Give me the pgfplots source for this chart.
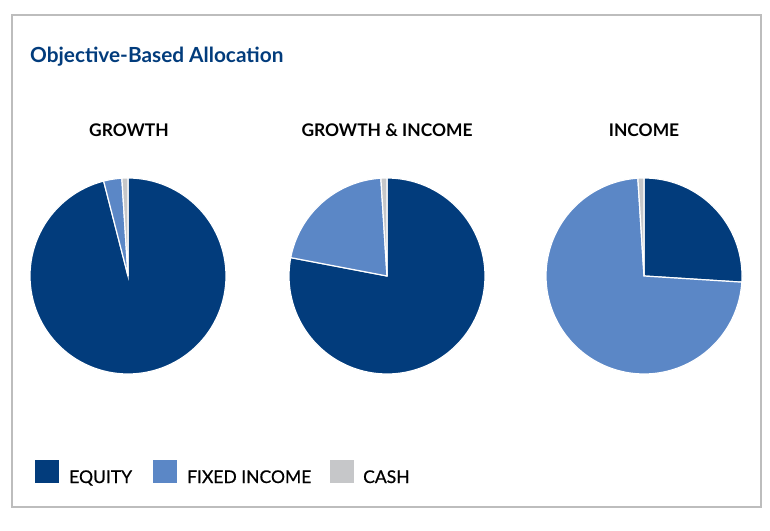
\documentclass[border=0pt]{standalone}
\usepackage{pgfplots}
\pgfplotsset{compat=1.18}
\usepackage{fontspec}
\setmainfont{Lato}
\newfontfamily\medfont{Lato}[FakeBold=0.7]
\definecolor{eq}{HTML}{023C7C}
\definecolor{fi}{HTML}{5B87C6}
\definecolor{ca}{HTML}{C6C7C9}
\definecolor{ttl}{HTML}{023C7C}
\definecolor{frm}{HTML}{BDBDBD}
% data: percent of Equity, Fixed Income, Cash (clockwise from 12 o'clock)
\def\GEq{96}\def\GFi{3}\def\GCa{1}
\def\GIEq{78}\def\GIFi{21}\def\GICa{1}
\def\IEq{26}\def\IFi{73}\def\ICa{1}
\newcommand{\pie}[5]{% name center-x center-y eq fi
\begin{axis}[at={(#2,#3)},anchor=center,hide axis,scale only axis,
  width=196pt,height=196pt,xmin=-1,xmax=1,ymin=-1,ymax=1,clip=false]
\pgfmathsetmacro{\a}{#4*3.6}
\pgfmathsetmacro{\b}{(#4+#5)*3.6}
\addplot[fill=eq,draw=white,line width=1.2pt,domain=0:\a,samples=120,variable=\t] ({sin(t)},{cos(t)}) -- (axis cs:0,0) -- cycle;
\addplot[fill=fi,draw=white,line width=1.2pt,domain=\a:\b,samples=120,variable=\t] ({sin(t)},{cos(t)}) -- (axis cs:0,0) -- cycle;
\addplot[fill=ca,draw=white,line width=1.2pt,domain=\b:360,samples=30,variable=\t] ({sin(t)},{cos(t)}) -- (axis cs:0,0) -- cycle;
\end{axis}}
\begin{document}
\begin{tikzpicture}[x=1pt,y=1pt]
\path[use as bounding box] (0,0) rectangle (770,530);
\draw[frm,line width=2pt] (12,23) rectangle (761,515);
\node[anchor=base west,text=ttl,font=\fontsize{20.8}{24}\selectfont\bfseries,inner sep=0] at (30,467) {Objective-Based Allocation};
\node[anchor=base,font=\fontsize{17.4}{20}\selectfont\bfseries,inner sep=0] at (129,393) {GROWTH};
\node[anchor=base,font=\fontsize{17.4}{20}\selectfont\bfseries,inner sep=0] at (387,393) {GROWTH \& INCOME};
\node[anchor=base,font=\fontsize{17.4}{20}\selectfont\bfseries,inner sep=0] at (644,393) {INCOME};
\pie{G}{128pt}{254pt}{\GEq}{\GFi}
\pie{GI}{387pt}{254pt}{\GIEq}{\GIFi}
\pie{I}{644pt}{254pt}{\IEq}{\IFi}
\fill[eq] (35,47) rectangle (59,70);
\fill[fi] (153,47) rectangle (177,70);
\fill[ca] (330,47) rectangle (354,70);
\node[anchor=base west,font=\fontsize{17.5}{20}\selectfont\medfont,inner sep=0] at (69,47) {EQUITY};
\node[anchor=base west,font=\fontsize{17.5}{20}\selectfont\medfont,inner sep=0] at (187,47) {FIXED INCOME};
\node[anchor=base west,font=\fontsize{17.5}{20}\selectfont\medfont,inner sep=0] at (363,47) {CASH};
\end{tikzpicture}
\end{document}
